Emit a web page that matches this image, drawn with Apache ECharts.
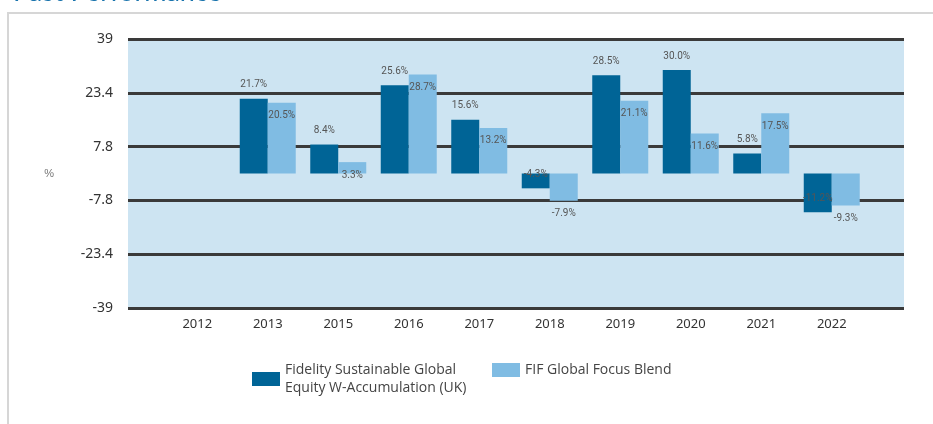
<!DOCTYPE html>
<html>
<head>
<meta charset="utf-8">
<script src="https://cdn.jsdelivr.net/npm/echarts@6/dist/echarts.min.js"></script>
<style>
html,body{margin:0;padding:0;background:#fff;}
#chart{width:933px;height:424px;}
</style>
</head>
<body>
<div id="chart"></div>
<script>
var years = ['2012','2013','2015','2016','2017','2018','2019','2020','2021','2022'];
var fundName = 'Fidelity Sustainable Global\nEquity W-Accumulation (UK)';
var indexName = 'FIF Global Focus Blend';
var fundData = [null, 21.7, 8.4, 25.6, 15.6, -4.3, 28.5, 30.0, 5.8, -11.2];
var indexData = [null, 20.5, 3.3, 28.7, 13.2, -7.9, 21.1, 11.6, 17.5, -9.3];
var yTicks = [-39, -23.4, -7.8, 7.8, 23.4, 39];

// label goes above the end of dark bars, below the end of light bars
function fundItems(arr){
    return arr.map(function(v){
        if (v == null) return null;
        return {value: v, label: {position: v >= 0 ? 'top' : 'insideBottom', distance: 9}};
    });
}
function indexItems(arr){
    return arr.map(function(v){
        if (v == null) return null;
        return {value: v, label: {position: v >= 0 ? 'insideTop' : 'bottom', distance: 8}};
    });
}

var myChart = echarts.init(document.getElementById('chart'));
var labelStyle = {
    show: true,
    formatter: function(p){ return p.value.toFixed(1) + '%'; },
    color: '#555',
    fontSize: 10,
    fontFamily: 'Roboto'
};
var legendBase = {
    top: 361,
    padding: 0,
    itemWidth: 28,
    itemHeight: 14,
    icon: 'rect',
    textStyle: {color: '#444', fontSize: 14, lineHeight: 18, fontFamily: 'Open Sans'}
};
var option = {
    animation: false,
    title: {
        text: 'Past Performance',
        left: 8,
        top: -26,
        textStyle: {color: '#1a74ad', fontSize: 27, fontWeight: 'normal', fontFamily: 'Lato'}
    },
    graphic: [{
        type: 'rect',
        shape: {x: 8, y: 13, width: 1000, height: 500},
        style: {fill: 'none', stroke: '#d6d6d6', lineWidth: 2},
        z: -10
    }],
    legend: [
        Object.assign({}, legendBase, {left: 252, data: [fundName]}),
        Object.assign({}, legendBase, {left: 492, data: [indexName]})
    ],
    grid: [
        {left: 128, right: 29, top: 39, bottom: 116, show: true, backgroundColor: '#cde4f2', borderWidth: 0},
        {left: 162, right: 66, top: 39, bottom: 116}
    ],
    xAxis: [
        {gridIndex: 0, type: 'value', show: false},
        {
            gridIndex: 1,
            type: 'category',
            data: years,
            axisLine: {show: false},
            axisTick: {show: false},
            axisLabel: {color: '#333', fontSize: 13, margin: 10, fontFamily: 'Noto Sans'}
        }
    ],
    yAxis: [
        {
            gridIndex: 0,
            type: 'value',
            min: -39,
            max: 39,
            name: '%',
            nameLocation: 'middle',
            nameRotate: 0,
            nameGap: 74,
            nameTextStyle: {color: '#777', fontSize: 11},
            axisLine: {show: false},
            axisTick: {show: false, customValues: yTicks},
            axisLabel: {customValues: yTicks, color: '#333', fontSize: 14, margin: 15, fontFamily: 'Noto Sans'},
            splitLine: {show: true, lineStyle: {color: '#3a3a3a', width: 3}}
        },
        {gridIndex: 1, type: 'value', min: -39, max: 39, show: false, splitLine: {show: false}}
    ],
    series: [
        {
            name: fundName,
            type: 'bar',
            xAxisIndex: 1,
            yAxisIndex: 1,
            barWidth: 28,
            barGap: '0%',
            itemStyle: {color: '#006496'},
            label: labelStyle,
            data: fundItems(fundData)
        },
        {
            name: indexName,
            type: 'bar',
            xAxisIndex: 1,
            yAxisIndex: 1,
            barWidth: 28,
            barGap: '0%',
            itemStyle: {color: '#80bce3'},
            label: labelStyle,
            data: indexItems(indexData)
        }
    ]
};
myChart.setOption(option);
</script>
</body>
</html>
